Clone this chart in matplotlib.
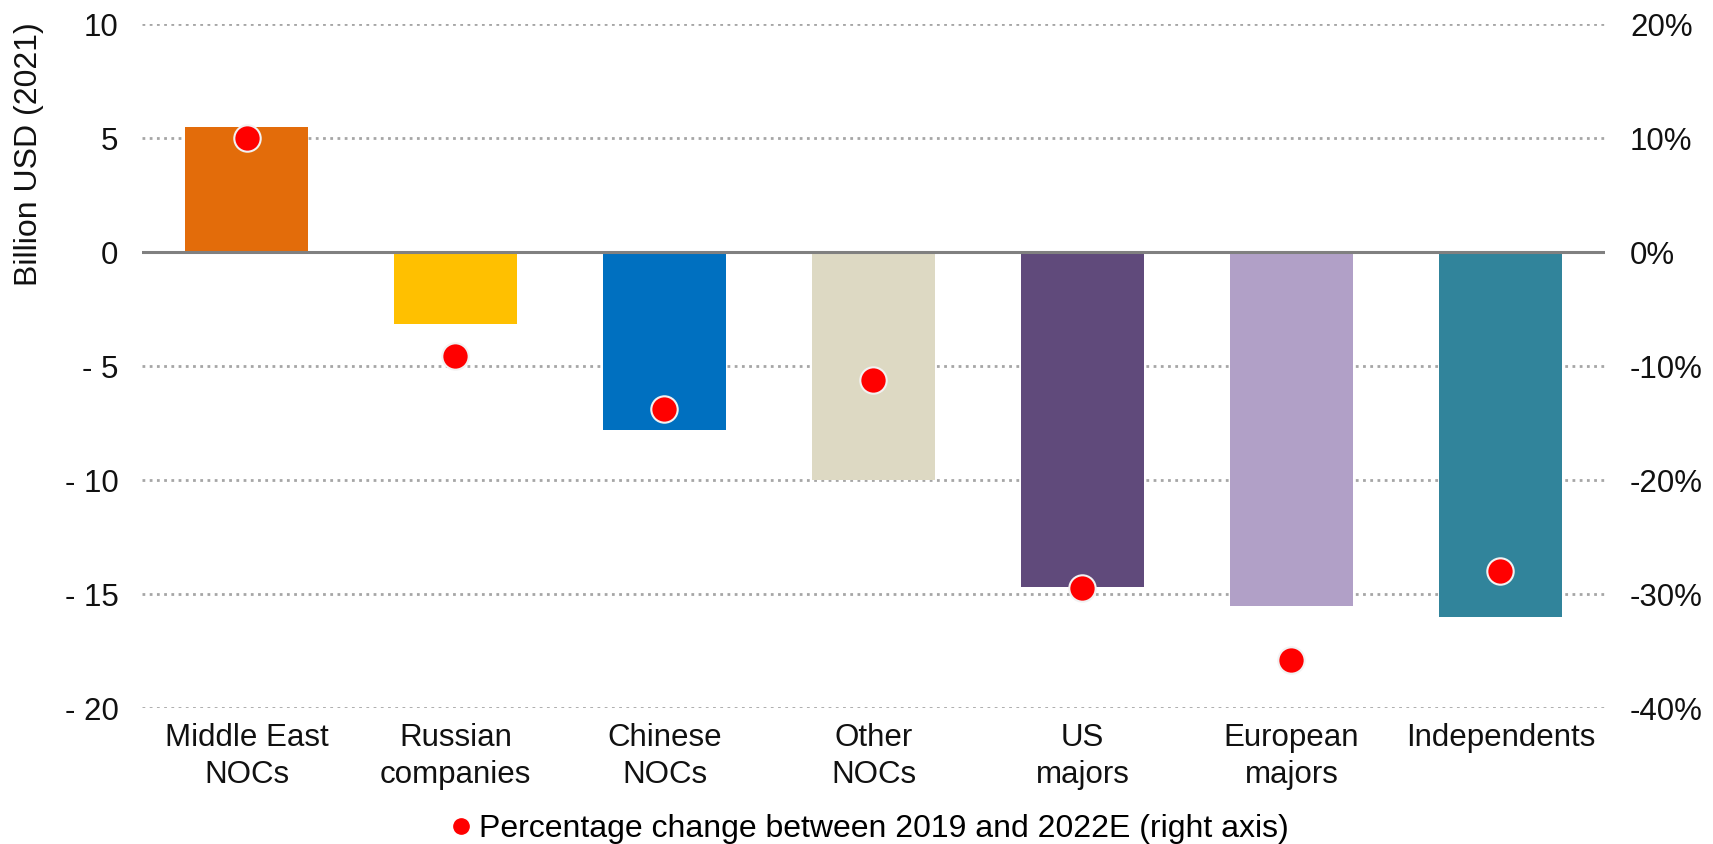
import numpy as np
import matplotlib
matplotlib.use('Agg')
import matplotlib.pyplot as plt
from matplotlib.lines import Line2D

plt.rcParams['font.family'] = ['Liberation Sans', 'DejaVu Sans']

categories = ['Middle East\nNOCs', 'Russian\ncompanies', 'Chinese\nNOCs', 'Other\nNOCs',
              'US\nmajors', 'European\nmajors', 'Independents']
change_busd = [5.5, -3.15, -7.8, -10.0, -14.7, -15.5, -16.0]
pct_change = [10.0, -9.1, -13.8, -11.2, -29.5, -35.8, -28.0]
bar_colors = ['#E36C0A', '#FFC000', '#0070C0', '#DDD9C3', '#604A7B', '#B1A0C7', '#31849B']

left_ticks = [10, 5, 0, -5, -10, -15, -20]
right_ticks = [20, 10, 0, -10, -20, -30, -40]


def left_label(v):
    '''
    Negative numbers are written as "- 5" on the left axis.
    '''
    if v < 0:
        return '- %d' % abs(v)
    return '%d' % v


fig = plt.figure(figsize=(17.13, 8.44), dpi=100)
ax = fig.add_axes([0.0829, 0.161, 0.854, 0.8105])
x = np.arange(len(categories))

ax.bar(x, change_busd, width=0.59, color=bar_colors, zorder=2)
ax.axhline(0, color='#808080', lw=2.2, zorder=3)
ax.set_xlim(-0.5, len(categories) - 0.5)
ax.set_ylim(-20, 10)
ax.set_yticks(left_ticks)
ax.set_yticklabels([left_label(v) for v in left_ticks])
ax.yaxis.grid(True, linestyle=(0, (1, 1.6)), color='#a6a6a6', lw=2.0)
ax.set_axisbelow(True)
ax.set_xticks(x)
ax.set_xticklabels(categories, linespacing=1.3)
ax.tick_params(axis='both', length=0, labelsize=22.5, colors='#111111')
ax.tick_params(axis='y', pad=17)
ax.tick_params(axis='x', pad=11)
ax.set_ylabel('Billion USD (2021)', fontsize=23, color='#111111')
ax.yaxis.set_label_coords(-0.067, 0.81)
for s in ax.spines.values():
    s.set_visible(False)

ax2 = ax.twinx()
ax2.set_ylim(-40, 20)
ax2.plot(x, pct_change, 'o', color='#FF0000', markersize=19,
         markeredgecolor='#f2f2f2', markeredgewidth=1.5, zorder=5)
ax2.set_yticks(right_ticks)
ax2.set_yticklabels(['%d%%' % v for v in right_ticks])
ax2.tick_params(axis='y', length=0, labelsize=22.5, colors='#111111', pad=18)
for s in ax2.spines.values():
    s.set_visible(False)

handle = Line2D([], [], marker='o', linestyle='none', color='#FF0000', markersize=11)
fig.legend([handle], ['Percentage change between 2019 and 2022E (right axis)'],
           loc='center', bbox_to_anchor=(0.508, 0.018), frameon=False,
           fontsize=23, handlelength=0.6, handletextpad=0.25, borderaxespad=0)

plt.savefig('out.png', dpi=100)
